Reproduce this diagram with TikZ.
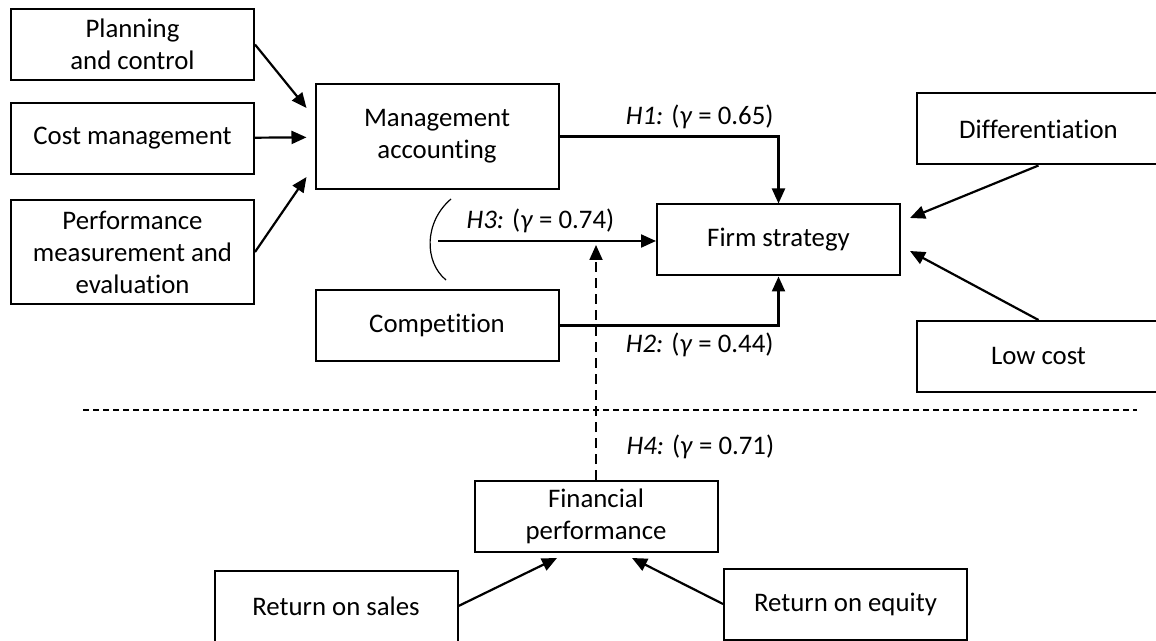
\documentclass[tikz,border=0pt]{standalone}
\usepackage{fontspec}
\setmainfont{Carlito}[Ligatures=NoCommon]
\usetikzlibrary{positioning, arrows.meta}

\begin{document}
\begin{tikzpicture}[x=0.5pt, y=-0.5pt, >={Triangle[length=7.5pt,width=6.5pt]}, font=\fontsize{13.4}{16}\selectfont]
  \tikzstyle{block} = [draw, rectangle, line width=1pt, minimum width=121.5pt, minimum height=35.5pt, align=center, inner sep=0pt]
  \tikzstyle{tall} = [block, minimum height=52.5pt]
  \tikzstyle{link} = [->, line width=1.1pt]
  \tikzstyle{sep} = [line width=0.7pt, dash pattern=on 3pt off 2pt]
  \useasboundingbox (0,0) rectangle (1156,641);
  \node [block] (plan) at (132.5,44.5) {Planning\\and control};
  \node [block, below=10.5pt of plan] (cost) {Cost management};
  \node [tall, below=12pt of cost, minimum height=52pt] (perf) {Performance\\measurement and\\evaluation};
  \node [tall] (mgmt) at (437,136.5) {Management\\accounting};
  \node [block, below=49.5pt of mgmt] (comp) {Competition};
  \node [block] (firm) at (778.5,240) {Firm strategy};
  \node [block] (diff) at (1038.5,129) {Differentiation};
  \node [block] (low) at (1038.5,356.5) {Low cost};
  \node [block] (fin) at (596,516.5) {Financial\\performance};
  \node [block] (ros) at (336,606) {Return on sales};
  \node [block] (roe) at (845.5,604) {Return on equity};
  \coordinate (h3) at (438,241);
  \coordinate (sepl) at (83,410);
  \coordinate (sepr) at (1137,410);

  \draw [link] (plan.east) -- ([xshift=-4pt, yshift=14.25pt]mgmt.west);
  \draw [link, shorten >=4pt] (cost) -- (mgmt);
  \draw [link] (perf.east) -- ([xshift=-4pt, yshift=-20.25pt]mgmt.west);
  \draw [link] (mgmt.east) -| node [above, pos=0.32] {\textit{H1:} (\textit{γ} = 0.65)} (firm.north);
  \draw [link] (comp.east) -| node [below, pos=0.32] {\textit{H2:} (\textit{γ} = 0.44)} (firm.south);
  \draw [link] (h3) -- node [above, pos=0.47] {\textit{H3:} (\textit{γ} = 0.74)} (h3 -| firm.west);
  \draw [link, line width=0.9pt, dash pattern=on 5pt off 3pt, shorten >=2pt] (fin.north) -- node [right, pos=0.14, xshift=11.5pt] {\textit{H4:} (\textit{γ} = 0.71)} (fin.north |- h3);
  \draw [link] (diff.south) -- ([xshift=4.5pt, yshift=11pt]firm.east);
  \draw [link] (low.north) -- ([xshift=4.5pt, yshift=-5.5pt]firm.east);
  \draw [link] (ros.east) -- ([xshift=-19.5pt, yshift=-2.5pt]fin.south);
  \draw [link] (roe.west) -- ([xshift=18pt, yshift=-2.5pt]fin.south);
  \draw [sep] (sepl) -- (sepr);
  \draw [line width=0.6pt] (451,199) .. controls (424,222) and (424,262) .. (446,280);
\end{tikzpicture}
\end{document}
